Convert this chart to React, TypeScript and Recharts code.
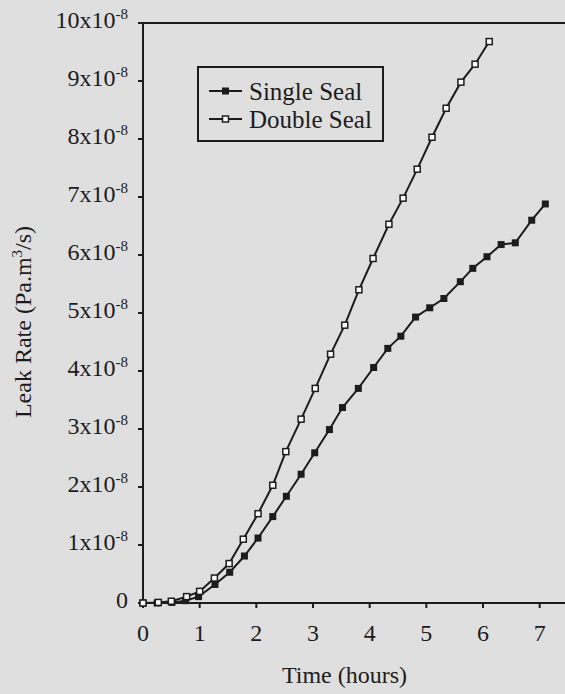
import React from 'react';
import { LineChart, Line, XAxis, YAxis, ReferenceLine } from 'recharts';

// Time (hours) and leak rate (Pa.m3/s)
const singleTime = [0, 0.25, 0.51, 0.75, 0.98, 1.27, 1.53, 1.79, 2.03, 2.29, 2.53, 2.79, 3.03, 3.29, 3.52, 3.8, 4.07, 4.32, 4.55, 4.81, 5.06, 5.31, 5.6, 5.82, 6.07, 6.32, 6.57, 6.86, 7.1];
const singleRate = [0, 0, 0.01e-8, 0.04e-8, 0.11e-8, 0.32e-8, 0.53e-8, 0.81e-8, 1.12e-8, 1.49e-8, 1.84e-8, 2.22e-8, 2.59e-8, 2.99e-8, 3.37e-8, 3.7e-8, 4.06e-8, 4.39e-8, 4.6e-8, 4.93e-8, 5.09e-8, 5.25e-8, 5.54e-8, 5.77e-8, 5.97e-8, 6.18e-8, 6.21e-8, 6.6e-8, 6.88e-8];

const doubleTime = [0, 0.27, 0.5, 0.77, 1.0, 1.26, 1.52, 1.77, 2.03, 2.29, 2.52, 2.79, 3.04, 3.31, 3.56, 3.81, 4.06, 4.34, 4.59, 4.84, 5.1, 5.35, 5.61, 5.86, 6.11];
const doubleRate = [0, 0.01e-8, 0.03e-8, 0.11e-8, 0.2e-8, 0.43e-8, 0.68e-8, 1.1e-8, 1.54e-8, 2.03e-8, 2.61e-8, 3.17e-8, 3.7e-8, 4.29e-8, 4.79e-8, 5.4e-8, 5.94e-8, 6.53e-8, 6.98e-8, 7.48e-8, 8.03e-8, 8.53e-8, 8.98e-8, 9.29e-8, 9.68e-8];

const xTicks = [0, 1, 2, 3, 4, 5, 6, 7];
const yTicks = [0, 1e-8, 2e-8, 3e-8, 4e-8, 5e-8, 6e-8, 7e-8, 8e-8, 9e-8, 10e-8];
const seriesNames = ['Single Seal', 'Double Seal'];

const singleData = singleTime.map((t, i) => ({ t, v: singleRate[i] }));
const doubleData = doubleTime.map((t, i) => ({ t, v: doubleRate[i] }));

const INK = '#1c1c1c';
const BG = '#dfdfdf';
const FONT = '"Liberation Serif", "Times New Roman", serif';

const FilledDot = (props: any) => {
  const { cx, cy, index } = props;
  if (cx == null || cy == null) return <g key={`f${index}`} />;
  return <rect key={`f${index}`} x={cx - 3.5} y={cy - 3.5} width={7} height={7} fill={INK} />;
};
const OpenDot = (props: any) => {
  const { cx, cy, index } = props;
  if (cx == null || cy == null) return <g key={`o${index}`} />;
  return <rect key={`o${index}`} x={cx - 3} y={cy - 3} width={6} height={6} fill="#ffffff" stroke={INK} strokeWidth={1.5} />;
};

const YTick = (props: any) => {
  const { x, y, payload } = props;
  const n = Math.round(payload.value * 1e8);
  if (n === 0) {
    return (
      <text x={x} y={y + 5} textAnchor="end" fontSize={24} fontFamily={FONT} fill={INK}>0</text>
    );
  }
  return (
    <text x={x} y={y + 5} textAnchor="end" fontSize={24} fontFamily={FONT} fill={INK}>
      {`${n}x10`}
      <tspan dy={-9} fontSize={15}>-8</tspan>
    </text>
  );
};

const XTick = (props: any) => {
  const { x, y, payload } = props;
  return (
    <text x={x} y={y + 31} textAnchor="middle" fontSize={24} fontFamily={FONT} fill={INK}>{payload.value}</text>
  );
};

const LegendBox = () => (
  <svg width={188} height={78} style={{ position: 'absolute', left: 197, top: 66, display: 'block' }}>
    <rect x={1} y={1} width={185} height={74} fill="none" stroke={INK} strokeWidth={2} />
    <line x1={12} x2={45} y1={25} y2={25} stroke={INK} strokeWidth={2} />
    <rect x={25} y={21.5} width={7} height={7} fill={INK} />
    <text x={52} y={34} fontSize={25} fontFamily={FONT} fill={INK}>{seriesNames[0]}</text>
    <line x1={12} x2={45} y1={53} y2={53} stroke={INK} strokeWidth={2} />
    <rect x={25.5} y={50} width={6} height={6} fill="#ffffff" stroke={INK} strokeWidth={1.5} />
    <text x={52} y={62} fontSize={25} fontFamily={FONT} fill={INK}>{seriesNames[1]}</text>
  </svg>
);

const XLabel = (props: any) => {
  const vb = props.viewBox || {};
  return (
    <text x={vb.x + vb.width / 2 - 11} y={683} textAnchor="middle" fontSize={24} fontFamily={FONT} fill={INK}>Time (hours)</text>
  );
};

const YLabel = () => (
  <text x={31} y={322} transform="rotate(-90, 31, 322)" textAnchor="middle" fontSize={24} fontFamily={FONT} fill={INK}>
    Leak Rate (Pa.m
    <tspan dy={-9} fontSize={15}>3</tspan>
    <tspan dy={9}>/s)</tspan>
  </text>
);

export default function App() {
  return (
    <div style={{ position: 'absolute', left: 0, top: 0, width: 565, height: 694, overflow: 'hidden', background: BG }}>
      <LineChart width={580} height={694} margin={{ top: 23, right: 12, left: 43, bottom: 30 }}>
        <XAxis
          type="number"
          dataKey="t"
          domain={[0, 7.5]}
          ticks={xTicks}
          allowDuplicatedCategory={false}
          height={61}
          axisLine={{ stroke: INK, strokeWidth: 2 }}
          tickLine={{ stroke: INK, strokeWidth: 2 }}
          tickSize={5}
          tickMargin={2}
          tick={<XTick />}
          label={<XLabel />}
        />
        <YAxis
          type="number"
          dataKey="v"
          domain={[0, 10e-8]}
          ticks={yTicks}
          width={100}
          axisLine={{ stroke: INK, strokeWidth: 2 }}
          tickLine={{ stroke: INK, strokeWidth: 2 }}
          tickSize={5}
          tickMargin={10}
          tick={<YTick />}
          label={<YLabel />}
        />
        <ReferenceLine y={10e-8} stroke={INK} strokeWidth={2} />
        <ReferenceLine x={7.5} stroke={INK} strokeWidth={2} />
        <Line
          data={singleData}
          dataKey="v"
          name={seriesNames[0]}
          type="linear"
          stroke={INK}
          strokeWidth={2}
          dot={FilledDot}
          activeDot={false}
          isAnimationActive={false}
        />
        <Line
          data={doubleData}
          dataKey="v"
          name={seriesNames[1]}
          type="linear"
          stroke={INK}
          strokeWidth={2}
          dot={OpenDot}
          activeDot={false}
          isAnimationActive={false}
        />
      </LineChart>
      <LegendBox />
    </div>
  );
}
